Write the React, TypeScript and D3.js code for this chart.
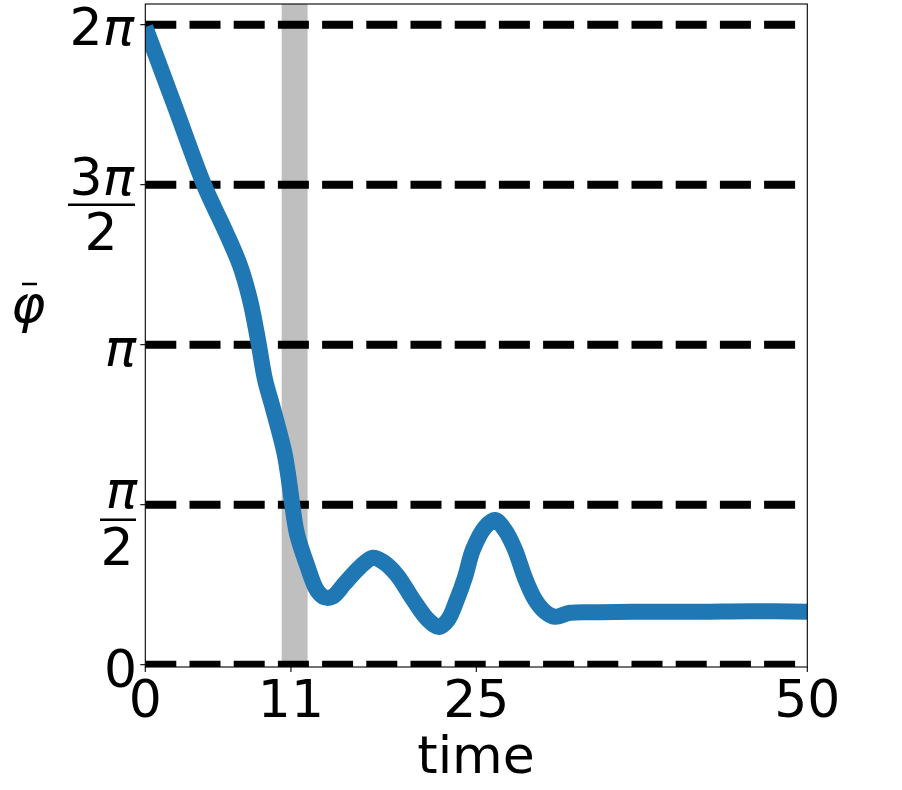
import * as d3 from "d3";

// phase trace (time, phi-bar in radians)
const times = [
  0, 2.25, 4.5, 6.0, 7.15, 7.91, 8.51, 9.04, 9.57, 10.17, 10.54, 10.85,
  11.08, 11.45, 12.21, 12.97, 13.57, 14.18, 15.08, 16.22, 17.2, 17.95, 19.01,
  20.22, 21.36, 22.19, 22.86, 23.54, 24.15, 24.75, 25.66, 26.41, 27.17, 27.92,
  28.68, 29.43, 30.19, 30.95, 32.08, 34.35, 38.13, 41.9, 45.7, 50,
];
const phiBar = [
  6.26, 5.475, 4.69, 4.27, 3.92, 3.58, 3.19, 2.8, 2.55, 2.26, 2.06, 1.81,
  1.59, 1.29, 0.98, 0.73, 0.66, 0.67, 0.8, 0.96, 1.05, 1.01, 0.88, 0.64, 0.44,
  0.37, 0.44, 0.64, 0.86, 1.13, 1.35, 1.42, 1.32, 1.13, 0.85, 0.64, 0.52, 0.47,
  0.51, 0.515, 0.52, 0.52, 0.525, 0.52,
];

const refLevels = [0, Math.PI / 2, Math.PI, (3 * Math.PI) / 2, 2 * Math.PI];
const xTicks = [0, 11, 25, 50];
const band = [10.3, 12.26];

const width = 902;
const height = 790;
const left = 145.3;
const right = 807.3;
const top = 4;
const bottom = 667;

const x = d3.scaleLinear().domain([0, 50]).range([left, right]);
const y = d3.scaleLinear().domain([-0.0226, 6.486]).range([bottom, top]);

const font = "DejaVu Sans, sans-serif";
const fs = 52;

export default function App() {
  const pts = times.map((t, i) => [t, phiBar[i]] as [number, number]);
  const line = d3
    .line<[number, number]>()
    .x(d => x(d[0]))
    .y(d => y(d[1]))
    .curve(d3.curveCatmullRom.alpha(0.5));

  return (
    <svg
      width={width}
      height={height}
      style={{ position: "absolute", left: 0, top: 0, background: "#fff" }}
      fontFamily={font}
    >
      <defs>
        <clipPath id="plot">
          <rect x={left} y={top} width={right - left} height={bottom - top} />
        </clipPath>
      </defs>
      <rect width={width} height={height} fill="#fff" />

      <g clipPath="url(#plot)">
        <rect
          x={x(band[0])}
          y={top}
          width={x(band[1]) - x(band[0])}
          height={bottom - top}
          fill="#bfbfbf"
        />
        {refLevels.map(v => (
          <line
            key={v}
            x1={x(0)}
            x2={x(50)}
            y1={y(v)}
            y2={y(v)}
            stroke="#000"
            strokeWidth={8}
            strokeDasharray="31 13.2"
          />
        ))}
        <path
          d={line(pts) || ""}
          fill="none"
          stroke="#1f77b4"
          strokeWidth={16}
          strokeLinejoin="round"
        />
      </g>

      {/* frame */}
      <rect
        x={left}
        y={top}
        width={right - left}
        height={bottom - top}
        fill="none"
        stroke="#000"
        strokeWidth={1.1}
      />

      {/* x ticks */}
      {xTicks.map(t => (
        <g key={t}>
          <line x1={x(t)} x2={x(t)} y1={bottom} y2={bottom + 5} stroke="#000" strokeWidth={1.1} />
          <text x={x(t)} y={716.5} fontSize={fs} textAnchor="middle">
            {t}
          </text>
        </g>
      ))}
      <text x={476} y={773} fontSize={fs} textAnchor="middle">
        time
      </text>

      {/* y ticks */}
      {refLevels.map(v => (
        <line key={v} x1={left - 5} x2={left} y1={y(v)} y2={y(v)} stroke="#000" strokeWidth={1.1} />
      ))}
      <text x={137} y={y(0) + 22} fontSize={fs} textAnchor="end">
        0
      </text>
      <text x={137} y={y(Math.PI / 2) + 3} fontSize={fs} textAnchor="end">
        <tspan fontStyle="italic">π</tspan>
      </text>
      <line x1={100} x2={136} y1={y(Math.PI / 2) + 15} y2={y(Math.PI / 2) + 15} stroke="#000" strokeWidth={2.5} />
      <text x={117} y={y(Math.PI / 2) + 60} fontSize={fs} textAnchor="middle">
        2
      </text>
      <text x={136} y={y(Math.PI) + 21} fontSize={fs} textAnchor="end">
        <tspan fontStyle="italic">π</tspan>
      </text>
      <text x={134} y={y((3 * Math.PI) / 2) + 10} fontSize={fs} textAnchor="end">
        3<tspan fontStyle="italic">π</tspan>
      </text>
      <line
        x1={68}
        x2={135}
        y1={y((3 * Math.PI) / 2) + 20}
        y2={y((3 * Math.PI) / 2) + 20}
        stroke="#000"
        strokeWidth={2.5}
      />
      <text x={101} y={y((3 * Math.PI) / 2) + 65} fontSize={fs} textAnchor="middle">
        2
      </text>
      <text x={134} y={y(2 * Math.PI) + 20} fontSize={fs} textAnchor="end">
        2<tspan fontStyle="italic">π</tspan>
      </text>

      {/* y label: phi bar */}
      <text x={11} y={322} fontSize={fs} fontStyle="italic">
        φ
      </text>
      <line x1={22} x2={37} y1={284} y2={284} stroke="#000" strokeWidth={2.5} />
    </svg>
  );
}
